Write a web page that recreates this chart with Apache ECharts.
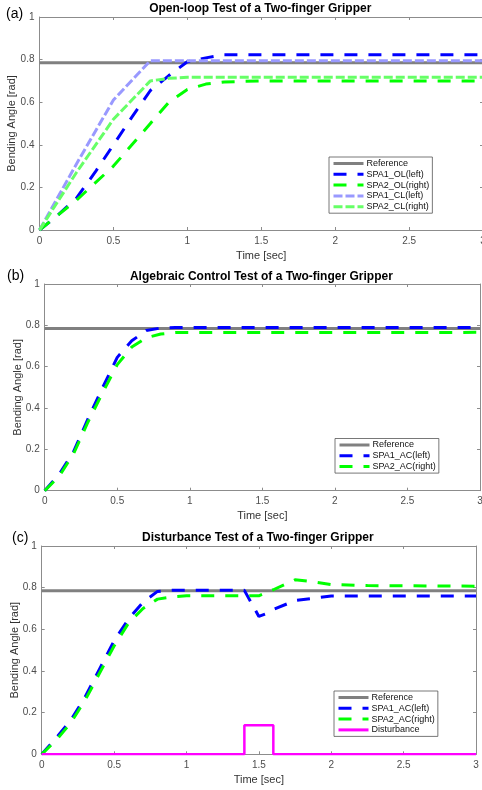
<!DOCTYPE html>
<html>
<head>
<meta charset="utf-8">
<script src="https://cdn.jsdelivr.net/npm/echarts@6/dist/echarts.min.js"></script>
<style>
html, body { margin: 0; padding: 0; background: #fff; }
#main { width: 482px; height: 790px; }
</style>
</head>
<body>
<div id="main"></div>
<script>
// ---- (a) open-loop test
var tRefA = [0, 3];
var vRefA = [0.785, 0.785];
var tOL1 = [0, 0.125, 0.25, 0.375, 0.5, 0.625, 0.75, 0.875, 1.0, 1.125, 1.25, 3.0];
var vOL1 = [0, 0.07, 0.15, 0.27, 0.40, 0.53, 0.655, 0.725, 0.79, 0.808, 0.823, 0.823];
var tOL2 = [0, 0.125, 0.25, 0.375, 0.5, 0.625, 0.75, 0.875, 1.0, 1.125, 1.25, 1.5, 3.0];
var vOL2 = [0, 0.07, 0.14, 0.22, 0.30, 0.40, 0.50, 0.60, 0.66, 0.685, 0.695, 0.70, 0.70];
var tCL1 = [0, 0.25, 0.5, 0.75, 3.0];
var vCL1 = [0, 0.31, 0.61, 0.795, 0.795];
var tCL2 = [0, 0.25, 0.5, 0.75, 0.875, 1.0, 3.0];
var vCL2 = [0, 0.27, 0.52, 0.70, 0.712, 0.717, 0.717];

// ---- (b) algebraic control test
var tB = [0, 0.1, 0.2, 0.3, 0.4, 0.5, 0.6, 0.7, 0.8, 0.9, 3.0];
var vB1 = [0, 0.08, 0.19, 0.35, 0.50, 0.645, 0.725, 0.775, 0.787, 0.79, 0.79];
var vB2 = [0, 0.07, 0.18, 0.335, 0.475, 0.61, 0.695, 0.74, 0.758, 0.765, 0.766];

// ---- (c) disturbance test
var tC1 = [0, 0.1, 0.2, 0.3, 0.4, 0.5, 0.6, 0.7, 0.8, 0.9, 1.4, 1.5, 1.55, 1.6, 1.75, 2.0, 3.0];
var vC1 = [0, 0.078, 0.163, 0.275, 0.41, 0.545, 0.65, 0.73, 0.782, 0.787, 0.787, 0.662, 0.675, 0.695, 0.738, 0.76, 0.76];
var tC2 = [0, 0.1, 0.2, 0.3, 0.4, 0.5, 0.6, 0.7, 0.8, 0.9, 1.0, 1.5, 1.6, 1.75, 1.85, 2.0, 2.25, 3.0];
var vC2 = [0, 0.068, 0.15, 0.26, 0.39, 0.52, 0.63, 0.70, 0.745, 0.755, 0.761, 0.761, 0.79, 0.838, 0.83, 0.815, 0.81, 0.807];
var tDist = [0, 1.4, 1.4, 1.6, 1.6, 3.0];
var vDist = [0, 0, 0.14, 0.14, 0, 0];

var xTicks = { min: 0, max: 3, interval: 0.5 };
var yTicks = { min: 0, max: 1, interval: 0.2 };

var titles = ['Open-loop Test of a Two-finger Gripper',
              'Algebraic Control Test of a Two-finger Gripper',
              'Disturbance Test of a Two-finger Gripper'];
var tags = ['(a)', '(b)', '(c)'];

function pairs(t, v) {
	var out = [];
	for (var i = 0; i < t.length; i++) {
		out.push([t[i], v[i]]);
	}
	return out;
}

var boxes = [
	{ left: 39.5, top: 17, width: 443.5, height: 213 },
	{ left: 44.7, top: 284, width: 435.3, height: 206.7 },
	{ left: 41.7, top: 546, width: 434.3, height: 208.3 }
];
var titleY = [2.5, 270.5, 532];
var tagPos = [[6, 7], [7, 269], [12, 531]];
var yNameGap = [22, 21, 21];

var font = 'Liberation Sans, Arial, sans-serif';
var axisGray = '#8c8c8c';

var grid = [], xAxis = [], yAxis = [], title = [];
boxes.forEach(function (b, i) {
	grid.push({ left: b.left, top: b.top, width: b.width, height: b.height, containLabel: false, outerBoundsMode: 'none' });
	xAxis.push({
		type: 'value', gridIndex: i, min: xTicks.min, max: xTicks.max, interval: xTicks.interval,
		name: 'Time [sec]', nameLocation: 'middle', nameGap: 20, nameMoveOverlap: false,
		nameTextStyle: { fontSize: 11, color: '#333', fontFamily: font },
		axisLine: { onZero: false, lineStyle: { color: axisGray, width: 1 } },
		axisTick: { inside: true, length: 3, lineStyle: { color: axisGray } },
		axisLabel: { fontSize: 10, color: '#4d4d4d', margin: 6, fontFamily: font, showMaxLabel: true },
		splitLine: { show: false }
	});
	xAxis.push({
		type: 'value', gridIndex: i, position: 'top', min: xTicks.min, max: xTicks.max, interval: xTicks.interval,
		axisLine: { onZero: false, lineStyle: { color: axisGray, width: 1 } },
		axisTick: { inside: true, length: 3, lineStyle: { color: axisGray } },
		axisLabel: { show: false }, splitLine: { show: false }
	});
	yAxis.push({
		type: 'value', gridIndex: i, min: yTicks.min, max: yTicks.max, interval: yTicks.interval,
		name: 'Bending Angle [rad]', nameLocation: 'middle', nameGap: yNameGap[i], nameMoveOverlap: false,
		nameTextStyle: { fontSize: 11, color: '#333', fontFamily: font },
		axisLine: { show: true, onZero: false, lineStyle: { color: axisGray, width: 1 } },
		axisTick: { show: true, inside: true, length: 3, lineStyle: { color: axisGray } },
		axisLabel: { fontSize: 10, color: '#4d4d4d', margin: 5, fontFamily: font },
		splitLine: { show: false }
	});
	yAxis.push({
		type: 'value', gridIndex: i, position: 'right', min: yTicks.min, max: yTicks.max, interval: yTicks.interval,
		axisLine: { show: true, onZero: false, lineStyle: { color: axisGray, width: 1 } },
		axisTick: { show: true, inside: true, length: 3, lineStyle: { color: axisGray } },
		axisLabel: { show: false }, splitLine: { show: false }
	});
	title.push({
		text: titles[i], left: b.left + b.width / 2 - 1, top: titleY[i], textAlign: 'center', padding: 0,
		textStyle: { fontSize: 12, fontWeight: 'bold', color: '#000', fontFamily: font }
	});
	title.push({
		text: tags[i], left: tagPos[i][0], top: tagPos[i][1], padding: 0,
		textStyle: { fontSize: 14, fontWeight: 'normal', color: '#000', fontFamily: font }
	});
});

function line(name, gi, t, v, color, width, dash, z) {
	return {
		type: 'line', name: name, xAxisIndex: gi * 2, yAxisIndex: gi * 2,
		data: pairs(t, v), showSymbol: false, symbol: 'none', animation: false, z: z || 2,
		lineStyle: { color: color, width: width, type: dash || 'solid' },
		itemStyle: { color: color }
	};
}

var OLDASH = [13, 11];
var CLDASH = [9, 3];

var series = [
	line('Reference', 0, tRefA, vRefA, '#808080', 3),
	line('SPA1_OL(left)', 0, tOL1, vOL1, '#0000ff', 3, OLDASH),
	line('SPA2_OL(right)', 0, tOL2, vOL2, '#00ff00', 3, OLDASH),
	line('SPA1_CL(left)', 0, tCL1, vCL1, '#9999ff', 3, CLDASH),
	line('SPA2_CL(right)', 0, tCL2, vCL2, '#66ff66', 3, CLDASH),

	line('Reference', 1, tRefA, vRefA, '#808080', 3),
	line('SPA1_AC(left)', 1, tB, vB1, '#0000ff', 3, OLDASH),
	line('SPA2_AC(right)', 1, tB, vB2, '#00ff00', 3, OLDASH),

	line('Reference', 2, tRefA, vRefA, '#808080', 3),
	line('SPA1_AC(left)', 2, tC1, vC1, '#0000ff', 3, OLDASH),
	line('SPA2_AC(right)', 2, tC2, vC2, '#00ff00', 3, OLDASH),
	line('Disturbance', 2, tDist, vDist, '#ff00ff', 2.5)
];

function legendBox(names, left, top) {
	return {
		data: names, orient: 'vertical', left: left, top: top,
		itemWidth: 30, itemHeight: 10, itemGap: 1.8, padding: [2, 3],
		backgroundColor: '#fff', borderColor: '#555', borderWidth: 0.8, borderRadius: 0,
		selectedMode: false,
		itemStyle: { opacity: 0 },
		lineStyle: { width: 3 },
		textStyle: { fontSize: 9, color: '#111', fontFamily: font, padding: [0, 0, 0, -2] }
	};
}

var chart = echarts.init(document.getElementById('main'), null, { renderer: 'canvas' });
chart.setOption({
	backgroundColor: '#fff',
	animation: false,
	title: title,
	grid: grid,
	xAxis: xAxis,
	yAxis: yAxis,
	legend: [
		legendBox(['Reference', 'SPA1_OL(left)', 'SPA2_OL(right)', 'SPA1_CL(left)', 'SPA2_CL(right)'], 329, 157),
		legendBox(['Reference', 'SPA1_AC(left)', 'SPA2_AC(right)'], 335, 438.5),
		legendBox(['Reference', 'SPA1_AC(left)', 'SPA2_AC(right)', 'Disturbance'], 334, 691)
	],
	series: series
});
</script>
</body>
</html>
